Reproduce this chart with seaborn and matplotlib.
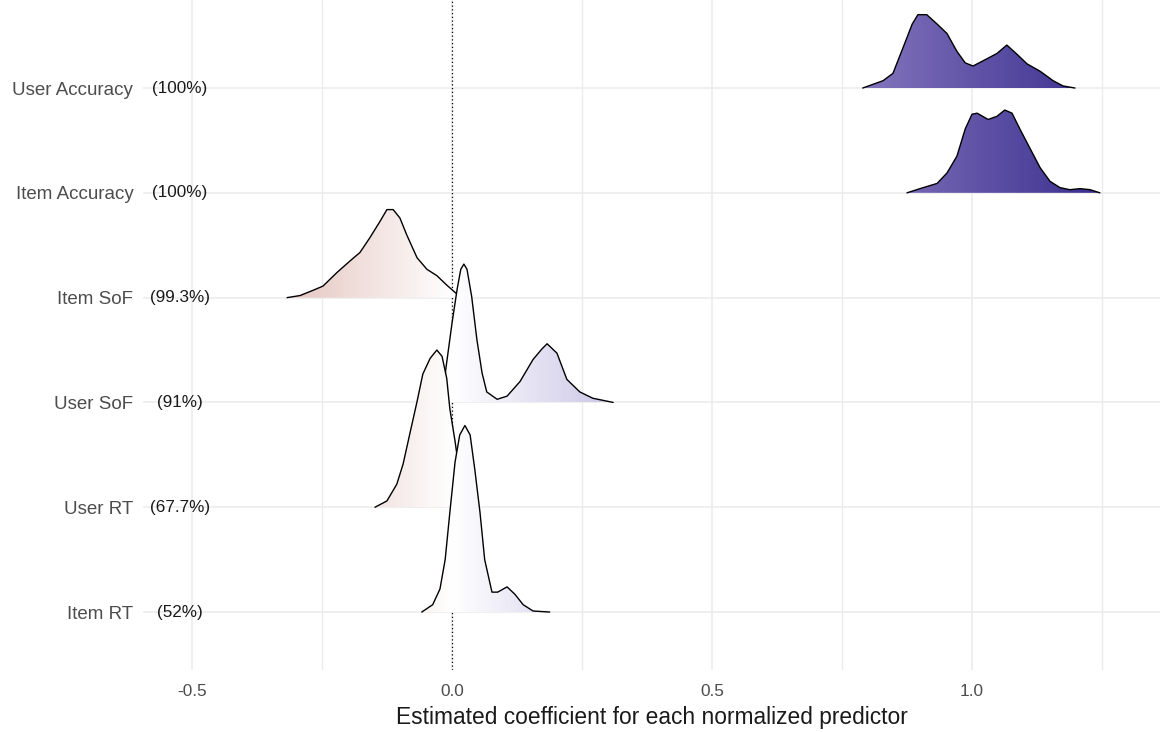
"""Ridgeline plot of posterior coefficient estimates with a gradient fill."""

import matplotlib

matplotlib.use("Agg")
import matplotlib.pyplot as plt
import numpy as np
import seaborn as sns
from matplotlib.colors import LinearSegmentedColormap, Normalize
from matplotlib.ticker import FixedLocator, MultipleLocator


# rows from bottom to top
PREDICTORS = ["Item RT", "User RT", "User SoF", "Item SoF", "Item Accuracy", "User Accuracy"]
PERCENTS = ["(52%)", "(67.7%)", "(91%)", "(99.3%)", "(100%)", "(100%)"]

X_TICKS = [-0.5, 0.0, 0.5, 1.0]
X_TICK_LABELS = ["-0.5", "0.0", "0.5", "1.0"]
X_LABEL = "Estimated coefficient for each normalized predictor"

# curves: coefficient value and ridge height (row units)
ITEM_RT_X = [-0.058, -0.037, -0.023, -0.013, -0.004, 0.006, 0.015, 0.025, 0.035, 0.044,
             0.054, 0.063, 0.077, 0.088, 0.106, 0.121, 0.137, 0.156, 0.188]
ITEM_RT_H = [0.0, 0.07, 0.22, 0.50, 0.95, 1.43, 1.69, 1.78, 1.69, 1.36,
             0.95, 0.50, 0.19, 0.19, 0.24, 0.17, 0.07, 0.01, 0.0]

USER_RT_X = [-0.148, -0.125, -0.106, -0.094, -0.081, -0.067, -0.056, -0.042, -0.029, -0.019,
             -0.010, -0.004, 0.006, 0.015, 0.025, 0.035]
USER_RT_H = [0.0, 0.06, 0.22, 0.41, 0.70, 1.01, 1.27, 1.42, 1.50, 1.44,
             1.23, 0.94, 0.63, 0.31, 0.09, 0.0]

USER_SOF_X = [-0.017, -0.012, 0.000, 0.010, 0.017, 0.023, 0.029, 0.038, 0.048, 0.058, 0.067,
              0.087, 0.106, 0.131, 0.156, 0.173, 0.183, 0.202, 0.221, 0.246, 0.271, 0.310]
USER_SOF_H = [0.0, 0.31, 0.75, 1.08, 1.27, 1.32, 1.27, 1.01, 0.60, 0.28, 0.10,
              0.03, 0.06, 0.20, 0.41, 0.51, 0.56, 0.47, 0.22, 0.10, 0.04, 0.0]

ITEM_SOF_X = [-0.317, -0.292, -0.267, -0.248, -0.221, -0.196, -0.177, -0.158, -0.138, -0.125,
              -0.113, -0.100, -0.087, -0.067, -0.048, -0.029, -0.010, 0.006, 0.019]
ITEM_SOF_H = [0.0, 0.02, 0.07, 0.11, 0.24, 0.35, 0.43, 0.57, 0.73, 0.84,
              0.84, 0.76, 0.60, 0.38, 0.27, 0.21, 0.12, 0.05, 0.0]

ITEM_ACC_X = [0.875, 0.900, 0.933, 0.952, 0.971, 0.987, 1.000, 1.010, 1.031, 1.048, 1.063,
              1.077, 1.092, 1.112, 1.131, 1.150, 1.169, 1.188, 1.208, 1.227, 1.246]
ITEM_ACC_H = [0.0, 0.04, 0.09, 0.19, 0.35, 0.61, 0.75, 0.76, 0.70, 0.73, 0.79,
              0.76, 0.61, 0.42, 0.24, 0.11, 0.05, 0.03, 0.04, 0.03, 0.0]

USER_ACC_X = [0.790, 0.829, 0.848, 0.867, 0.885, 0.896, 0.913, 0.933, 0.952, 0.971, 0.987,
              1.002, 1.029, 1.048, 1.067, 1.087, 1.106, 1.131, 1.156, 1.175, 1.198]
USER_ACC_H = [0.0, 0.07, 0.14, 0.38, 0.61, 0.70, 0.70, 0.61, 0.52, 0.35, 0.24,
              0.21, 0.28, 0.33, 0.41, 0.32, 0.23, 0.16, 0.07, 0.02, 0.0]

RIDGES = [
    (ITEM_RT_X, ITEM_RT_H),
    (USER_RT_X, USER_RT_H),
    (USER_SOF_X, USER_SOF_H),
    (ITEM_SOF_X, ITEM_SOF_H),
    (ITEM_ACC_X, ITEM_ACC_H),
    (USER_ACC_X, USER_ACC_H),
]

# fill gradient along the x axis
GRAD_MIN, GRAD_MAX = -0.35, 1.25
GRAD_STOPS = [
    (-0.35, "#E2C0BA"),
    (0.0, "#FFFFFF"),
    (0.25, "#D5D1EB"),
    (0.85, "#7A6CB7"),
    (1.25, "#3A2F8F"),
]
CMAP = LinearSegmentedColormap.from_list(
    "ridge",
    [((v - GRAD_MIN) / (GRAD_MAX - GRAD_MIN), c) for v, c in GRAD_STOPS],
)
NORM = Normalize(GRAD_MIN, GRAD_MAX)

GRID_COLOR = "#EBEBEB"
TEXT_COLOR = "#4D4D4D"


def draw_ridge(ax, row, xs, hs):
    xs = np.asarray(xs)
    ys = row + np.asarray(hs)
    z = 20 - 2 * row  # lower rows sit on top
    poly = ax.fill_between(xs, row, ys, facecolor="none", edgecolor="none", zorder=z)
    shade = np.linspace(xs.min(), xs.max(), 300)
    img = ax.imshow(
        CMAP(NORM(shade))[None, :, :],
        extent=[xs.min(), xs.max(), row, ys.max()],
        aspect="auto",
        origin="lower",
        interpolation="bilinear",
        zorder=z,
    )
    img.set_clip_path(poly.get_paths()[0], transform=ax.transData)
    sns.lineplot(x=xs, y=ys, color="black", linewidth=1.0, sort=False,
                 estimator=None, ax=ax, zorder=z + 0.5,
                 solid_joinstyle="round", solid_capstyle="round")


def main():
    sns.set_theme(style="whitegrid")
    plt.rcParams["font.family"] = ["Liberation Sans", "DejaVu Sans"]

    fig = plt.figure(figsize=(11.62, 7.32), dpi=100)
    ax = fig.add_axes([143 / 1162, 1 - 670 / 732, 1 - 145 / 1162, 670 / 732])

    ax.axvline(0, color="black", linestyle=(0, (1, 2)), linewidth=0.9, zorder=2)

    for i, (xs, hs) in enumerate(RIDGES):
        draw_ridge(ax, i + 1, xs, hs)

    rows = np.arange(1, len(PREDICTORS) + 1)
    for row, pct in zip(rows, PERCENTS):
        ax.text(-0.523, row, pct, ha="center", va="center", fontsize=12.3,
                color="#1A1A1A", zorder=30)

    ax.set_xlim(-0.594, 1.3615)
    ax.set_ylim(0.447, 6.84)

    ax.xaxis.set_major_locator(FixedLocator(X_TICKS))
    ax.set_xticklabels(X_TICK_LABELS)
    ax.xaxis.set_minor_locator(MultipleLocator(0.25))
    ax.set_yticks(rows)
    ax.set_yticklabels(PREDICTORS)

    ax.grid(which="major", color=GRID_COLOR, linewidth=1.1)
    ax.grid(which="minor", axis="x", color=GRID_COLOR, linewidth=1.0)
    ax.tick_params(axis="x", which="both", length=0, pad=10, labelsize=12.4, labelcolor=TEXT_COLOR)
    ax.tick_params(axis="y", which="both", length=0, pad=7, labelsize=13.5, labelcolor=TEXT_COLOR)
    ax.set_xlabel(X_LABEL, fontsize=16.4, color="#1A1A1A", labelpad=5)
    ax.set_ylabel("")
    sns.despine(ax=ax, left=True, bottom=True)

    fig.savefig("out.png", dpi=100)
    plt.close(fig)


if __name__ == "__main__":
    main()
